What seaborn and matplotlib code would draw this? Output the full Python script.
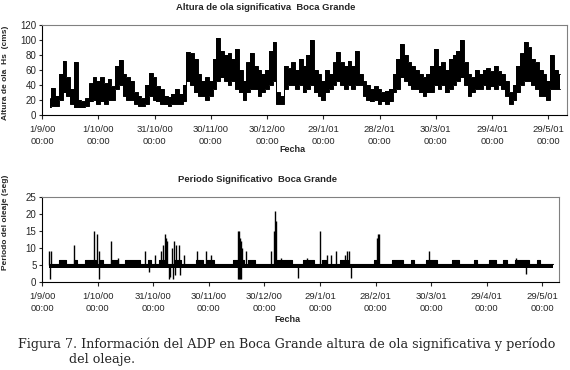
import pandas as pd
import matplotlib
matplotlib.use("Agg")
import matplotlib.pyplot as plt
import seaborn as sns

START = pd.Timestamp("2000-09-01")

# Altura de ola significativa (cm): daily range read every 2 days, from day 4 after 1/9/00
hs_first_day = 4
hs_low = [10, 12, 12, 20, 30, 25, 15, 10, 10, 10,
          12, 18, 20, 15, 18, 15, 20, 20, 35, 40,
          25, 20, 20, 15, 12, 12, 15, 25, 20, 18,
          15, 14, 12, 15, 15, 15, 18, 45, 40, 30,
          25, 25, 20, 25, 35, 45, 50, 45, 40, 45,
          35, 30, 20, 30, 35, 35, 25, 30, 35, 40,
          45, 15, 15, 35, 40, 40, 35, 40, 30, 35,
          40, 30, 25, 20, 30, 35, 40, 45, 40, 35,
          40, 35, 40, 40, 25, 20, 18, 20, 15, 18,
          15, 18, 30, 35, 50, 45, 40, 35, 35, 30,
          25, 30, 30, 40, 35, 40, 30, 35, 40, 45,
          50, 40, 25, 30, 35, 35, 40, 35, 38, 35,
          40, 35, 25, 15, 20, 30, 40, 45, 45, 40,
          35, 25, 25, 20, 35, 35, 35]
hs_high = [22, 36, 25, 55, 72, 50, 35, 71, 20, 18,
           22, 42, 50, 45, 50, 42, 48, 38, 65, 73,
           55, 50, 45, 30, 25, 22, 40, 56, 50, 38,
           35, 25, 24, 28, 35, 28, 40, 84, 82, 75,
           55, 45, 50, 45, 75, 103, 85, 80, 82, 75,
           88, 60, 45, 70, 83, 65, 60, 55, 60, 85,
           98, 30, 25, 65, 62, 70, 60, 75, 65, 80,
           100, 60, 55, 45, 60, 55, 70, 84, 70, 65,
           72, 65, 85, 55, 45, 40, 35, 38, 35, 30,
           32, 35, 55, 75, 95, 80, 70, 65, 60, 55,
           50, 55, 65, 88, 65, 70, 60, 75, 80, 85,
           100, 70, 55, 50, 60, 55, 60, 62, 58, 65,
           58, 55, 45, 30, 40, 65, 82, 98, 90, 75,
           70, 60, 55, 45, 80, 60, 55]

# Periodo del oleaje (s): base band every 2 days, plus isolated peaks and dips
tp_first_day = 4
tp_band_low = 4.0
tp_band_high = [5.3, 5.3, 5.3, 6.5, 6.5, 5.3, 5.3, 6.5, 5.3, 5.3,
                6.5, 6.5, 6.5, 5.3, 6.5, 5.3, 5.3, 6.5, 6.5, 5.3,
                5.3, 6.5, 6.5, 6.5, 6.5, 5.3, 5.3, 6.5, 5.3, 5.3,
                6.5, 6.5, 5.3, 5.3, 6.5, 6.5, 5.3, 5.3, 5.3, 5.3,
                6.5, 6.5, 5.3, 6.5, 6.5, 5.3, 5.3, 5.3, 5.3, 5.3,
                6.5, 6.5, 6.5, 5.3, 6.5, 6.5, 5.3, 5.3, 5.3, 5.3,
                5.3, 5.3, 6.5, 6.5, 6.5, 6.5, 5.3, 5.3, 5.3, 6.5,
                6.5, 6.5, 5.3, 5.3, 6.5, 5.3, 5.3, 5.3, 5.3, 6.5,
                6.5, 5.3, 5.3, 5.3, 5.3, 5.3, 5.3, 5.3, 6.5, 5.3,
                5.3, 5.3, 5.3, 6.5, 6.5, 6.5, 5.3, 5.3, 6.5, 5.3,
                5.3, 5.3, 6.5, 6.5, 6.5, 5.3, 5.3, 5.3, 5.3, 6.5,
                6.5, 5.3, 5.3, 5.3, 5.3, 6.5, 5.3, 5.3, 5.3, 6.5,
                6.5, 5.3, 5.3, 6.5, 5.3, 5.3, 6.5, 6.5, 6.5, 6.5,
                5.3, 5.3, 6.5, 5.3, 5.3, 5.3, 5.3]
tp_peak_days = [4, 5, 17, 28, 29.7, 31, 37, 41, 55.5, 61, 64, 65.5, 66.3, 67,
                67.7, 70, 71.5, 72.5, 74, 76.5, 83.5, 88.5, 91, 105.6, 106.2,
                106.8, 107.5, 108.2, 110, 123.5, 125.3, 125.8, 126.3, 129, 143,
                150, 154, 156, 158.6, 163.5, 164.5, 165.5, 181, 181.5, 182, 209,
                255.6]
tp_peak_vals = [9, 9, 11, 15, 14, 9, 12, 7, 9, 8, 9, 11, 14, 13,
                12, 10, 12, 11, 11, 8, 9, 9, 8, 15, 15,
                13, 12, 10, 9, 9, 15, 21, 18, 7, 7,
                15, 8, 8, 9, 8, 9, 9, 13, 14, 14, 9,
                7]
tp_dip_days = [4.5, 31, 58, 68.5, 69, 70.5, 72, 74.5, 105.8, 106.5, 107,
               107.6, 138.2, 166.6, 261]
tp_dip_vals = [1, 1, 3, 1, 1.5, 1, 2, 2, 1, 1, 1, 1, 1.2, 1.2, 2.5]

tick_dates = pd.date_range(START, periods=10, freq="30D")


def to_date(days):
    return START + pd.to_timedelta(pd.Series(days, dtype=float), unit="D")


hs = pd.DataFrame({"low": hs_low, "high": hs_high})
hs["fecha"] = to_date([hs_first_day + 2 * i for i in range(len(hs))])
tp = pd.DataFrame({"high": tp_band_high})
tp["fecha"] = to_date([tp_first_day + 2 * i for i in range(len(tp))])
tp["low"] = tp_band_low

sns.set_style("white")
plt.rcParams["font.family"] = ["Liberation Sans", "DejaVu Sans"]

fig = plt.figure(figsize=(5.7, 3.7), dpi=100)
ax1 = fig.add_axes([42 / 570, 1 - 115 / 370, 525 / 570, 90 / 370])
ax2 = fig.add_axes([42 / 570, 1 - 282 / 370, 517 / 570, 85 / 370])

# wave height: black band between daily low and high
ax1.fill_between(hs["fecha"], hs["low"], hs["high"], step="mid", color="black", lw=0)
sns.lineplot(data=hs, x="fecha", y="high", ax=ax1, color="black", lw=0.7,
             drawstyle="steps-mid", estimator=None)
sns.lineplot(data=hs, x="fecha", y="low", ax=ax1, color="black", lw=0.7,
             drawstyle="steps-mid", estimator=None)

# period: base band plus spikes
ax2.fill_between(tp["fecha"], tp["low"], tp["high"], step="mid", color="black", lw=0)
sns.lineplot(data=tp, x="fecha", y="high", ax=ax2, color="black", lw=0.8,
             drawstyle="steps-mid", estimator=None)
ax2.vlines(to_date(tp_peak_days), 5, tp_peak_vals, color="black", lw=1.0)
ax2.vlines(to_date(tp_dip_days), tp_dip_vals, 5, color="black", lw=1.0)

labels = [f"{d.day}/{d.month}/{d:%y}\n00:00" for d in tick_dates]
for ax, yl, yt, xmax in [(ax1, 120, range(0, 121, 20), 280),
                         (ax2, 25, range(0, 26, 5), 279)]:
    ax.set_xlim(START, START + pd.Timedelta(days=xmax))
    ax.set_ylim(0, yl)
    ax.set_xticks(tick_dates)
    ax.set_xticklabels(labels, fontsize=6.8, linespacing=1.45)
    ax.set_yticks(list(yt))
    ax.tick_params(axis="y", labelsize=7, length=2, width=0.8, pad=2, left=True)
    ax.tick_params(axis="x", length=3, width=0.8, pad=4, bottom=True)
    ax.set_xlabel("")
    ax.set_ylabel("")
    for s in ["left", "bottom"]:
        ax.spines[s].set_color("black")
        ax.spines[s].set_linewidth(0.8)
    for s in ["top", "right"]:
        ax.spines[s].set_color("#808080")
        ax.spines[s].set_linewidth(0.8)

bold = dict(fontweight="bold", ha="center", va="center")
fig.text(266 / 570, 1 - 8 / 370, "Altura de ola significativa  Boca Grande", fontsize=6.8, **bold)
fig.text(257 / 570, 1 - 180 / 370, "Periodo Significativo  Boca Grande", fontsize=6.8, **bold)
fig.text(292 / 570, 1 - 149 / 370, "Fecha", fontsize=6.5, **bold)
fig.text(287 / 570, 1 - 319 / 370, "Fecha", fontsize=6.5, **bold)
fig.text(5.5 / 570, 1 - 73 / 370, "Altura de ola  Hs  (cms)", fontsize=6, rotation=90, **bold)
fig.text(5.5 / 570, 1 - 222 / 370, "Periodo del oleaje (seg)", fontsize=6, rotation=90, **bold)

fig.text(18 / 570, 1 - 344 / 370,
         "Figura 7. Información del ADP en Boca Grande altura de ola significativa y período",
         fontsize=9.15, family="DejaVu Serif", ha="left", va="center")
fig.text(69 / 570, 1 - 359 / 370, "del oleaje.",
         fontsize=9.15, family="DejaVu Serif", ha="left", va="center")

fig.savefig("out.png", dpi=100)
